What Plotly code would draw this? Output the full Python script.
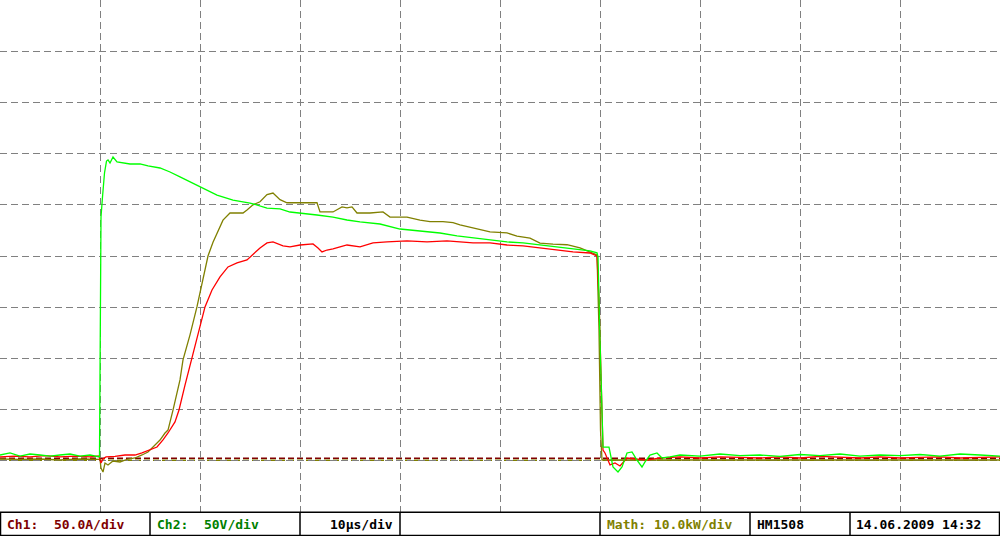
import plotly.graph_objects as go

# ---------------- data ----------------
# Ch1: current [A], 50 A/div
t_ch1 = [0, 1.5, 3, 4.5, 6, 7.5, 9, 9.9, 10.1, 10.3, 10.6, 11.5, 12.5, 13.5, 14.2, 15, 15.7, 16.3, 16.8, 17.5,
         17.9, 18.5, 19.2, 19.8, 20.5, 21.2, 22.0, 22.8, 23.7, 24.7, 25.5, 26.0, 26.7, 27.3, 28.3, 29.0, 30.0,
         31.3, 31.8, 32.2, 32.7, 33.3, 34.0, 34.7, 36.0, 37.3, 38.7, 40.7, 42.7, 44.7, 46.0, 47.3, 49.0, 50.7,
         52.3, 54.0, 55.7, 57.3, 59.0, 59.7, 59.9, 60.1, 60.3, 60.5, 61.0, 61.5, 62.0, 62.7, 64.0, 64.7, 66.0,
         68, 70, 72, 74, 76, 78, 80, 82, 84, 86, 88, 90, 92, 94, 96, 98, 100]
ch1_amps = [1.3, 2.2, 1.3, 2.7, 1.3, 2.2, 1.3, 2.2, -4.6, -0.7, 1.3, 1.8, 3.2, 3.2, 5.2, 8.1, 11.0, 17.9, 24.7, 35.5,
            47.2, 71.5, 98.0, 122.4, 147.8, 164.4, 177.2, 186.9, 190.8, 193.7, 201.5, 205.4, 210.3, 211.3, 207.4,
            206.4, 208.3, 209.3, 205.4, 201.5, 203.4, 204.4, 206.4, 208.3, 206.4, 210.3, 211.3, 212.3, 211.3,
            212.3, 211.3, 210.3, 210.3, 208.3, 207.4, 205.4, 203.4, 201.5, 200.5, 197.6, 155.6, 76.5, 8.1, 5.2,
            -6.5, -4.6, -7.5, 0.3, -0.7, -1.7, 0.3, 1.3, 0.3, 1.3, 0.8, 0.3, 1.3, 0.3, 1.8, 0.8, 0.3, 1.3, 0.3,
            0.8, 1.3, 0.3, 0.8, 1.3]

# Ch2: voltage [V], 50 V/div
t_ch2 = [0, 1, 2, 3, 4, 5, 6, 7, 8, 9, 9.95, 10.1, 10.25, 10.45, 10.65, 10.8, 11.0, 11.3, 11.7, 12.3, 13.0, 14.0,
         14.8, 16.0, 17.0, 18.0, 19.0, 20.0, 21.7, 23.3, 25.0, 26.7, 28.0, 29.0, 30.0, 31.7, 33.3, 34.7, 36.0,
         38.0, 40.0, 42.0, 44.0, 45.7, 47.3, 49.0, 50.7, 52.3, 54.0, 55.7, 57.3, 59.0, 59.7, 59.8, 60.0, 60.2,
         60.3, 60.9, 61.3, 61.8, 62.2, 62.7, 63.2, 63.7, 64.2, 64.5, 65.0, 65.7, 66.2, 67.0, 68, 70, 72, 74, 76,
         78, 80, 82, 84, 86, 88, 90, 92, 94, 96, 98, 100]
ch2_volts = [3.2, 5.2, 2.2, 4.2, 3.2, 2.2, 3.2, 4.2, 2.2, 3.2, 1.3, 235.6, 255.2, 278.6, 290.3, 291.3, 288.4, 294.2,
             289.4, 288.4, 287.4, 287.4, 285.5, 283.5, 279.6, 274.8, 269.9, 265.1, 257.1, 252.2, 249.3, 244.4,
             243.5, 240.5, 239.6, 237.6, 235.6, 232.7, 230.8, 228.8, 223.9, 222.0, 220.0, 217.1, 215.2, 213.2,
             211.3, 210.3, 208.4, 206.4, 204.5, 202.5, 200.6, 196.7, 115.5, 24.7, 11.0, 11.0, -8.5, -13.4, -8.5,
             5.2, 6.2, -1.7, -8.5, -3.6, 3.2, 5.2, 0.3, 1.3, 3.2, 2.2, 4.2, 2.7, 3.2, 1.8, 3.7, 2.7, 4.2, 2.2,
             3.2, 2.7, 3.7, 2.2, 4.2, 3.2, 2.2]

# Math: power [kW], 10 kW/div
t_math = [0, 2, 4, 6, 8, 10, 10.1, 10.3, 10.5, 10.8, 11.3, 12.0, 12.8, 13.5, 14.2, 14.8, 15.3, 16.0, 16.5, 16.8,
          17.3, 18.0, 18.3, 19.0, 19.7, 20.3, 20.8, 21.3, 21.8, 22.3, 23.0, 24.3, 24.7, 25.3, 26.0, 26.7, 27.3,
          28.0, 28.7, 30.0, 31.7, 32.0, 33.3, 34.2, 34.7, 35.2, 35.7, 37.0, 38.3, 39.0, 40.7, 42.0, 43.0, 44.3,
          45.3, 46.0, 47.3, 49.0, 50.7, 51.7, 53.0, 54.0, 55.3, 56.7, 58.0, 59.0, 59.7, 59.9, 60.05, 60.2, 61,
          65, 70, 75, 80, 85, 90, 95, 100]
math_kw = [0.25, 0.16, 0.25, 0.06, 0.25, 0.16, -1.5, -2.3, -0.53, -0.92, -0.14, -0.33, 0.25, 0.45, 1.04, 1.62,
           2.6, 3.96, 5.33, 5.9, 9.8, 15.7, 19.6, 24.5, 30.0, 35.2, 39.9, 42.6, 44.9, 46.9, 48.3, 48.3, 48.9,
           49.9, 50.5, 51.9, 52.2, 50.9, 50.3, 50.3, 50.3, 48.5, 48.5, 49.5, 49.3, 49.5, 48.3, 48.3, 48.5, 47.5,
           47.5, 46.9, 46.6, 46.6, 46.4, 46.0, 45.4, 44.6, 44.4, 43.8, 43.4, 42.4, 42.2, 42.1, 41.5, 40.7, 40.1,
           25.4, 5.9, 0.06, 0.06, 0.1, 0.06, 0.1, 0.06, 0.1, 0.06, 0.1, 0.06]

assert len(t_ch1) == len(ch1_amps)
assert len(t_ch2) == len(ch2_volts)
assert len(t_math) == len(math_kw)

# scope settings
ch1_scale, ch2_scale, math_scale = 50.0, 50.0, 10.0      # units per division
ch1_ground, ch2_ground, math_ground = 1.049, 1.049, 1.010  # ground marker position, divisions

status_fields = [
    ("Ch1:  50.0A/div", "#800000", 5),
    ("Ch2:  50V/div", "#008000", 155),
    ("10µs/div", "#000000", 328),
    ("Math: 10.0kW/div", "#808000", 605),
    ("HM1508", "#000000", 755),
    ("14.06.2009 14:32", "#000000", 854),
]
status_separators = [150, 300, 400, 600, 750, 850]

# ---------------- figure ----------------
def to_div(values, scale, ground):
    return [ground + v / scale for v in values]

fig = go.Figure()
fig.add_trace(go.Scatter(x=t_math, y=to_div(math_kw, math_scale, math_ground), mode="lines",
                         line=dict(color="#808000", width=1.3), name="Math", hoverinfo="skip"))
fig.add_trace(go.Scatter(x=t_ch1, y=to_div(ch1_amps, ch1_scale, ch1_ground), mode="lines",
                         line=dict(color="#ff0000", width=1.3), name="Ch1", hoverinfo="skip"))
fig.add_trace(go.Scatter(x=t_ch2, y=to_div(ch2_volts, ch2_scale, ch2_ground), mode="lines",
                         line=dict(color="#00ff00", width=1.3), name="Ch2", hoverinfo="skip"))

shapes = [
    dict(type="line", xref="x", yref="y", x0=0, x1=100, y0=ch1_ground, y1=ch1_ground,
         line=dict(color="#800000", width=1.5, dash="6px,3px"), layer="below"),
    dict(type="line", xref="x", yref="y", x0=0, x1=100, y0=math_ground, y1=math_ground,
         line=dict(color="#808000", width=1.5, dash="6px,3px"), layer="below"),
]
box_bottom = -23.5 / 512
box_top = -0.3 / 512
shapes.append(dict(type="rect", xref="paper", yref="paper", x0=0.0005, x1=0.9995, y0=box_bottom, y1=box_top,
                   line=dict(color="#000000", width=1.5), fillcolor="rgba(0,0,0,0)"))
for sx in status_separators:
    shapes.append(dict(type="line", xref="paper", yref="paper", x0=sx / 1000, x1=sx / 1000,
                       y0=box_bottom, y1=box_top, line=dict(color="#000000", width=1.5)))

annotations = []
for text, color, px in status_fields:
    annotations.append(dict(text="<b>" + text + "</b>", xref="paper", yref="paper", x=px / 1000, y=-12 / 512,
                            xanchor="left", yanchor="middle", showarrow=False,
                            font=dict(family="DejaVu Sans Mono", size=13, color=color)))

fig.update_layout(
    width=1000, height=536, autosize=False,
    margin=dict(l=0, r=0, t=0, b=24, pad=0),
    paper_bgcolor="white", plot_bgcolor="white",
    showlegend=False,
    shapes=shapes, annotations=annotations,
    xaxis=dict(range=[0, 100], dtick=10, tick0=0, showgrid=True, gridcolor="#808080", gridwidth=1,
               griddash="7px,4px", zeroline=False, showline=False, showticklabels=False, ticks="",
               fixedrange=True),
    yaxis=dict(range=[0, 10], dtick=1, tick0=0, showgrid=True, gridcolor="#808080", gridwidth=1,
               griddash="7px,4px", zeroline=False, showline=False, showticklabels=False, ticks="",
               fixedrange=True),
)

fig.write_html("out.html", config={"displayModeBar": False},
               post_script="document.body.style.margin='0';")
